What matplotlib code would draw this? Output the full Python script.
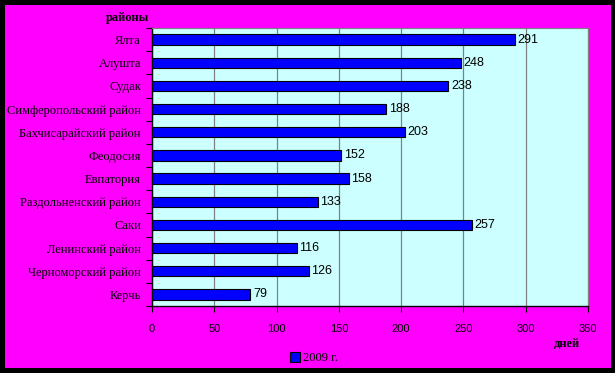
import matplotlib
matplotlib.use("Agg")
import matplotlib.pyplot as plt
from matplotlib.patches import Rectangle
import numpy as np

categories = ["Ялта", "Алушта", "Судак", "Симферопольский район", "Бахчисарайский район",
              "Феодосия", "Евпатория", "Раздольненский район", "Саки", "Ленинский район",
              "Черноморский район", "Керчь"]
values = [291, 248, 238, 188, 203, 152, 158, 133, 257, 116, 126, 79]
xticks = [0, 50, 100, 150, 200, 250, 300, 350]
series_name = "2009 г."

W, H = 615, 373
fig = plt.figure(figsize=(W / 100, H / 100), dpi=100)
fig.patch.set_facecolor("black")
fig.patches.append(Rectangle((5 / W, 5 / H), (611 - 5) / W, (368 - 5) / H,
                             transform=fig.transFigure, facecolor="#FF00FF",
                             edgecolor="none", zorder=-10))

ax = fig.add_axes([152 / W, 1 - 306 / H, (588 - 152) / W, (306 - 28) / H])
ax.set_zorder(1)
ax.set_facecolor("#CCFFFF")
n = len(categories)
y = np.arange(n)
bars = ax.barh(y, values, height=0.45, color="#0000FF", edgecolor="black",
               linewidth=0.8, zorder=3, label=series_name)
ax.set_ylim(n - 0.5, -0.5)
ax.set_xlim(0, 350)
ax.set_xticks(xticks)
ax.set_xticklabels([str(t) for t in xticks], fontfamily="Liberation Sans", fontsize=8)
ax.set_yticks(y)
ax.set_yticklabels(categories, fontfamily="Liberation Serif", fontsize=9)
ax.set_yticks(np.arange(n + 1) - 0.5, minor=True)
ax.tick_params(axis="y", which="major", length=0, pad=8)
ax.tick_params(axis="y", which="minor", length=4, width=0.8, direction="out")
ax.tick_params(axis="x", length=4, width=0.8, direction="out", pad=9)
ax.grid(axis="x", color="#808080", linewidth=0.9, zorder=1)
for side in ["top", "right"]:
    ax.spines[side].set_color("#808080")
for side in ["left", "bottom"]:
    ax.spines[side].set_color("black")
    ax.spines[side].set_linewidth(1.0)

for b, v in zip(bars, values):
    ax.text(v + 2, b.get_y() + b.get_height() / 2, str(v), va="center", ha="left",
            fontfamily="Liberation Sans", fontsize=9, zorder=4)

fig.text(128 / W, 1 - 18 / H, "районы", ha="center", va="center",
         fontfamily="Liberation Serif", fontweight="bold", fontsize=9)
fig.text(567 / W, 1 - 344 / H, "дней", ha="center", va="center",
         fontfamily="Liberation Serif", fontweight="bold", fontsize=9)

leg = fig.legend(handles=[bars], labels=[series_name], loc="center",
                 bbox_to_anchor=(314 / W, 1 - 358 / H), frameon=False,
                 prop={"family": "Liberation Serif", "size": 9},
                 handlelength=0.8, handleheight=0.8, handletextpad=0.3)

fig.savefig("out.png", dpi=100, facecolor=fig.get_facecolor())
